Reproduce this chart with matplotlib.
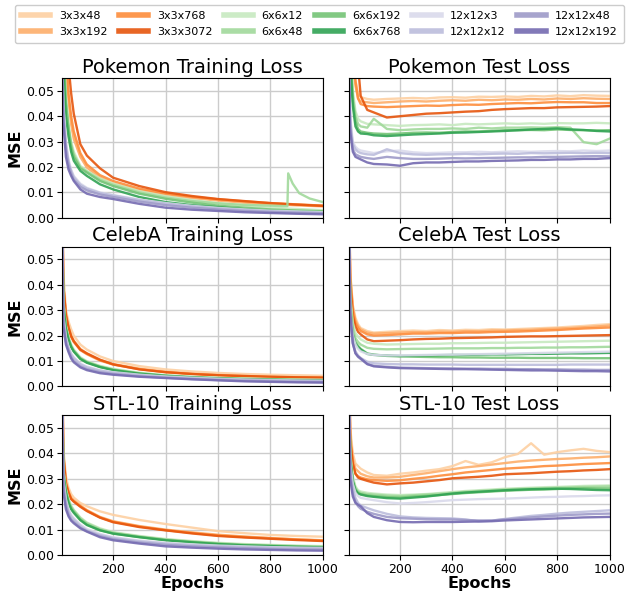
import numpy as np
import matplotlib
matplotlib.use("Agg")
import matplotlib.pyplot as plt

labels = ["3x3x48", "3x3x192", "3x3x768", "3x3x3072",
          "6x6x12", "6x6x48", "6x6x192", "6x6x768",
          "12x12x3", "12x12x12", "12x12x48", "12x12x192"]
colors = ["#fdd0a2", "#fdae6b", "#fd8d3c", "#e6550d",
          "#c7e9c0", "#a1d99b", "#74c476", "#31a354",
          "#dadaeb", "#bcbddc", "#9e9ac8", "#756bb1"]

epochs_train = [1, 10, 20, 30, 40, 50, 75, 100, 150, 200, 300, 400, 500, 600, 700, 800, 900, 1000]
epochs_test = [1, 10, 20, 30, 40, 50, 75, 100, 150, 200, 250, 300, 350, 400, 450, 500,
               550, 600, 650, 700, 750, 800, 850, 900, 950, 1000]

# training losses (one row per label, values read at epochs_train)
pokemon_train = [
    [0.12, 0.090, 0.062, 0.047, 0.038, 0.032, 0.0245, 0.0200, 0.0160, 0.0138, 0.0110, 0.0092, 0.0080, 0.0070, 0.0062, 0.0056, 0.0052, 0.0048],
    [0.12, 0.090, 0.060, 0.046, 0.037, 0.031, 0.0240, 0.0198, 0.0158, 0.0136, 0.0108, 0.0090, 0.0078, 0.0068, 0.0060, 0.0054, 0.0049, 0.0045],
    [0.12, 0.095, 0.065, 0.049, 0.040, 0.034, 0.0255, 0.0210, 0.0168, 0.0145, 0.0115, 0.0096, 0.0083, 0.0073, 0.0065, 0.0058, 0.0053, 0.0048],
    [0.13, 0.110, 0.080, 0.060, 0.049, 0.041, 0.0290, 0.0245, 0.0195, 0.0158, 0.0125, 0.0101, 0.0086, 0.0074, 0.0066, 0.0058, 0.0052, 0.0047],
    [0.10, 0.070, 0.048, 0.037, 0.030, 0.026, 0.0205, 0.0185, 0.0155, 0.0135, 0.0105, 0.0085, 0.0070, 0.0058, 0.0048, 0.0040, 0.0035, 0.0030],
    [0.10, 0.068, 0.046, 0.036, 0.029, 0.025, 0.0200, 0.0182, 0.0150, 0.0130, 0.0100, 0.0080, 0.0066, 0.0057, 0.0051, 0.0048, 0.0046, 0.0062],
    [0.10, 0.066, 0.045, 0.035, 0.028, 0.024, 0.0195, 0.0178, 0.0145, 0.0125, 0.0095, 0.0075, 0.0060, 0.0048, 0.0040, 0.0033, 0.0029, 0.0026],
    [0.10, 0.060, 0.040, 0.032, 0.026, 0.0225, 0.0185, 0.0165, 0.0132, 0.0112, 0.0082, 0.0062, 0.0050, 0.0042, 0.0034, 0.0028, 0.0024, 0.0021],
    [0.09, 0.045, 0.030, 0.023, 0.019, 0.0165, 0.0135, 0.0118, 0.0100, 0.0090, 0.0072, 0.0058, 0.0047, 0.0039, 0.0033, 0.0028, 0.0025, 0.0022],
    [0.09, 0.044, 0.029, 0.022, 0.0185, 0.0160, 0.0130, 0.0115, 0.0098, 0.0088, 0.0070, 0.0056, 0.0045, 0.0037, 0.0031, 0.0026, 0.0023, 0.0020],
    [0.085, 0.040, 0.027, 0.021, 0.0175, 0.0150, 0.0122, 0.0108, 0.0092, 0.0082, 0.0064, 0.0050, 0.0040, 0.0033, 0.0027, 0.0023, 0.0020, 0.0018],
    [0.08, 0.038, 0.024, 0.019, 0.0165, 0.0145, 0.0112, 0.0095, 0.0082, 0.0074, 0.0055, 0.0040, 0.0032, 0.0027, 0.0022, 0.0019, 0.0016, 0.0014],
]
# the 6x6x48 pokemon run has a spike near epoch 866
spike_epochs = [800, 860, 865, 868, 885, 910, 950, 1000]
spike_values = [0.0048, 0.0046, 0.0046, 0.0175, 0.0135, 0.0097, 0.0076, 0.0062]

celeba_train = [
    [0.12, 0.045, 0.030, 0.0255, 0.0225, 0.0200, 0.0165, 0.0145, 0.0118, 0.0100, 0.0080, 0.0067, 0.0059, 0.0053, 0.0049, 0.0046, 0.0044, 0.0042],
    [0.12, 0.040, 0.029, 0.0235, 0.0200, 0.0180, 0.0148, 0.0130, 0.0105, 0.0088, 0.0070, 0.0058, 0.0050, 0.0045, 0.0041, 0.0038, 0.0036, 0.0034],
    [0.12, 0.040, 0.028, 0.0230, 0.0195, 0.0175, 0.0143, 0.0127, 0.0102, 0.0086, 0.0068, 0.0056, 0.0049, 0.0044, 0.0040, 0.0037, 0.0035, 0.0033],
    [0.12, 0.040, 0.028, 0.0232, 0.0198, 0.0178, 0.0145, 0.0130, 0.0105, 0.0087, 0.0067, 0.0056, 0.0049, 0.0044, 0.0041, 0.0038, 0.0036, 0.0035],
    [0.11, 0.034, 0.024, 0.0195, 0.0165, 0.0145, 0.0115, 0.0099, 0.0081, 0.0069, 0.0054, 0.0044, 0.0038, 0.0034, 0.0031, 0.0029, 0.0027, 0.0026],
    [0.11, 0.033, 0.0235, 0.0190, 0.0160, 0.0142, 0.0112, 0.0097, 0.0079, 0.0067, 0.0052, 0.0043, 0.0037, 0.0033, 0.0030, 0.0028, 0.0026, 0.0025],
    [0.11, 0.032, 0.0230, 0.0186, 0.0157, 0.0139, 0.0110, 0.0095, 0.0077, 0.0065, 0.0051, 0.0042, 0.0036, 0.0032, 0.0029, 0.0027, 0.0025, 0.0024],
    [0.11, 0.032, 0.0225, 0.0183, 0.0155, 0.0137, 0.0108, 0.0093, 0.0076, 0.0064, 0.0050, 0.0041, 0.0035, 0.0031, 0.0028, 0.0026, 0.0024, 0.0023],
    [0.10, 0.028, 0.0195, 0.0155, 0.0130, 0.0115, 0.0090, 0.0078, 0.0064, 0.0056, 0.0046, 0.0039, 0.0034, 0.0030, 0.0027, 0.0025, 0.0023, 0.0022],
    [0.10, 0.027, 0.0190, 0.0150, 0.0126, 0.0111, 0.0087, 0.0075, 0.0062, 0.0054, 0.0044, 0.0037, 0.0032, 0.0029, 0.0026, 0.0024, 0.0022, 0.0021],
    [0.10, 0.025, 0.0175, 0.0142, 0.0116, 0.0100, 0.0079, 0.0068, 0.0056, 0.0049, 0.0040, 0.0034, 0.0029, 0.0025, 0.0022, 0.0020, 0.0018, 0.0017],
    [0.10, 0.024, 0.0165, 0.0135, 0.0110, 0.0095, 0.0075, 0.0064, 0.0052, 0.0046, 0.0038, 0.0033, 0.0028, 0.0024, 0.0020, 0.0018, 0.0016, 0.0015],
]

stl_train = [
    [0.12, 0.042, 0.031, 0.0265, 0.0240, 0.0226, 0.0205, 0.0192, 0.0172, 0.0158, 0.0138, 0.0122, 0.0108, 0.0094, 0.0086, 0.0079, 0.0075, 0.0072],
    [0.12, 0.040, 0.029, 0.0250, 0.0225, 0.0215, 0.0195, 0.0177, 0.0150, 0.0133, 0.0114, 0.0100, 0.0089, 0.0080, 0.0073, 0.0067, 0.0062, 0.0058],
    [0.12, 0.040, 0.0285, 0.0248, 0.0222, 0.0212, 0.0192, 0.0175, 0.0148, 0.0131, 0.0112, 0.0098, 0.0087, 0.0077, 0.0071, 0.0066, 0.0061, 0.0057],
    [0.12, 0.039, 0.028, 0.0245, 0.0220, 0.0210, 0.0190, 0.0173, 0.0147, 0.0129, 0.0110, 0.0097, 0.0085, 0.0075, 0.0069, 0.0064, 0.0059, 0.0055],
    [0.11, 0.034, 0.026, 0.0220, 0.0195, 0.0178, 0.0148, 0.0128, 0.0105, 0.0090, 0.0075, 0.0063, 0.0055, 0.0048, 0.0043, 0.0040, 0.0037, 0.0035],
    [0.11, 0.033, 0.0255, 0.0215, 0.0190, 0.0175, 0.0145, 0.0125, 0.0102, 0.0088, 0.0073, 0.0061, 0.0053, 0.0046, 0.0041, 0.0038, 0.0035, 0.0033],
    [0.11, 0.032, 0.0250, 0.0210, 0.0185, 0.0170, 0.0140, 0.0120, 0.0098, 0.0085, 0.0071, 0.0059, 0.0051, 0.0044, 0.0039, 0.0036, 0.0033, 0.0031],
    [0.11, 0.032, 0.0245, 0.0205, 0.0180, 0.0166, 0.0137, 0.0118, 0.0097, 0.0084, 0.0070, 0.0058, 0.0050, 0.0043, 0.0038, 0.0035, 0.0032, 0.0030],
    [0.10, 0.030, 0.0220, 0.0180, 0.0158, 0.0145, 0.0120, 0.0102, 0.0083, 0.0070, 0.0057, 0.0048, 0.0042, 0.0037, 0.0034, 0.0031, 0.0029, 0.0028],
    [0.10, 0.029, 0.0210, 0.0172, 0.0152, 0.0140, 0.0115, 0.0097, 0.0079, 0.0067, 0.0054, 0.0045, 0.0039, 0.0035, 0.0031, 0.0029, 0.0027, 0.0026],
    [0.10, 0.027, 0.0195, 0.0160, 0.0140, 0.0130, 0.0108, 0.0094, 0.0074, 0.0062, 0.0049, 0.0040, 0.0034, 0.0030, 0.0027, 0.0024, 0.0022, 0.0021],
    [0.10, 0.025, 0.0180, 0.0152, 0.0135, 0.0125, 0.0105, 0.0092, 0.0070, 0.0058, 0.0045, 0.0034, 0.0029, 0.0025, 0.0022, 0.0020, 0.0018, 0.0017],
]

# test losses (one row per label, values read at epochs_test)
pokemon_test = [
    [0.12, 0.085, 0.062, 0.054, 0.049, 0.0475, 0.0468, 0.0465, 0.0468, 0.0470, 0.0472, 0.0470, 0.0474, 0.0475, 0.0473, 0.0477, 0.0476, 0.0478, 0.0476, 0.0480, 0.0478, 0.0482, 0.0479, 0.0483, 0.0481, 0.0480],
    [0.12, 0.083, 0.060, 0.052, 0.047, 0.0458, 0.0455, 0.0452, 0.0455, 0.0458, 0.0460, 0.0458, 0.0461, 0.0463, 0.0461, 0.0465, 0.0463, 0.0466, 0.0465, 0.0468, 0.0466, 0.0470, 0.0468, 0.0471, 0.0469, 0.0468],
    [0.12, 0.090, 0.065, 0.054, 0.047, 0.0448, 0.0440, 0.0438, 0.0436, 0.0438, 0.0440, 0.0442, 0.0441, 0.0444, 0.0446, 0.0445, 0.0448, 0.0450, 0.0452, 0.0451, 0.0454, 0.0456, 0.0455, 0.0455, 0.0452, 0.0452],
    [0.13, 0.110, 0.090, 0.075, 0.060, 0.0480, 0.0425, 0.0415, 0.0395, 0.0400, 0.0405, 0.0410, 0.0412, 0.0415, 0.0418, 0.0420, 0.0425, 0.0428, 0.0430, 0.0432, 0.0432, 0.0435, 0.0436, 0.0437, 0.0438, 0.0440],
    [0.11, 0.070, 0.050, 0.042, 0.039, 0.0380, 0.0370, 0.0368, 0.0365, 0.0362, 0.0365, 0.0366, 0.0368, 0.0365, 0.0370, 0.0368, 0.0370, 0.0372, 0.0370, 0.0372, 0.0370, 0.0373, 0.0372, 0.0372, 0.0374, 0.0372],
    [0.11, 0.068, 0.048, 0.040, 0.037, 0.0360, 0.0355, 0.0390, 0.0350, 0.0345, 0.0348, 0.0350, 0.0350, 0.0352, 0.0350, 0.0355, 0.0352, 0.0355, 0.0355, 0.0356, 0.0355, 0.0357, 0.0355, 0.0298, 0.0290, 0.0312],
    [0.11, 0.065, 0.046, 0.038, 0.035, 0.0340, 0.0335, 0.0332, 0.0330, 0.0332, 0.0335, 0.0336, 0.0335, 0.0338, 0.0340, 0.0340, 0.0342, 0.0345, 0.0345, 0.0346, 0.0345, 0.0348, 0.0346, 0.0345, 0.0344, 0.0345],
    [0.11, 0.062, 0.044, 0.036, 0.034, 0.0332, 0.0330, 0.0325, 0.0322, 0.0325, 0.0328, 0.0330, 0.0332, 0.0335, 0.0336, 0.0338, 0.0340, 0.0342, 0.0345, 0.0348, 0.0350, 0.0352, 0.0348, 0.0346, 0.0342, 0.0340],
    [0.09, 0.040, 0.030, 0.028, 0.027, 0.0265, 0.0260, 0.0255, 0.0262, 0.0265, 0.0258, 0.0255, 0.0256, 0.0258, 0.0258, 0.0260, 0.0258, 0.0260, 0.0262, 0.0260, 0.0262, 0.0263, 0.0262, 0.0265, 0.0263, 0.0265],
    [0.09, 0.038, 0.029, 0.027, 0.026, 0.0255, 0.0250, 0.0248, 0.0270, 0.0255, 0.0250, 0.0248, 0.0250, 0.0250, 0.0252, 0.0250, 0.0252, 0.0253, 0.0252, 0.0255, 0.0254, 0.0255, 0.0256, 0.0255, 0.0256, 0.0255],
    [0.085, 0.036, 0.027, 0.025, 0.0245, 0.0240, 0.0235, 0.0232, 0.0240, 0.0235, 0.0232, 0.0232, 0.0233, 0.0235, 0.0234, 0.0235, 0.0236, 0.0237, 0.0238, 0.0238, 0.0240, 0.0240, 0.0241, 0.0242, 0.0243, 0.0242],
    [0.08, 0.034, 0.026, 0.024, 0.0235, 0.0230, 0.0218, 0.0212, 0.0210, 0.0205, 0.0215, 0.0218, 0.0218, 0.0220, 0.0222, 0.0222, 0.0224, 0.0225, 0.0226, 0.0228, 0.0228, 0.0230, 0.0230, 0.0232, 0.0232, 0.0235],
]

celeba_test = [
    [0.11, 0.045, 0.032, 0.027, 0.0245, 0.0230, 0.0218, 0.0212, 0.0215, 0.0218, 0.0220, 0.0218, 0.0222, 0.0220, 0.0223, 0.0222, 0.0225, 0.0224, 0.0226, 0.0228, 0.0230, 0.0232, 0.0235, 0.0238, 0.0242, 0.0245],
    [0.11, 0.044, 0.031, 0.026, 0.0238, 0.0225, 0.0212, 0.0208, 0.0210, 0.0212, 0.0214, 0.0213, 0.0216, 0.0215, 0.0218, 0.0217, 0.0220, 0.0220, 0.0222, 0.0223, 0.0226, 0.0228, 0.0230, 0.0233, 0.0236, 0.0240],
    [0.11, 0.043, 0.030, 0.025, 0.0230, 0.0218, 0.0205, 0.0200, 0.0202, 0.0205, 0.0208, 0.0208, 0.0210, 0.0210, 0.0212, 0.0212, 0.0214, 0.0215, 0.0216, 0.0218, 0.0220, 0.0222, 0.0225, 0.0228, 0.0230, 0.0232],
    [0.11, 0.040, 0.028, 0.0235, 0.0215, 0.0205, 0.0185, 0.0178, 0.0180, 0.0182, 0.0185, 0.0187, 0.0188, 0.0190, 0.0191, 0.0192, 0.0193, 0.0195, 0.0196, 0.0197, 0.0197, 0.0198, 0.0199, 0.0200, 0.0201, 0.0202],
    [0.10, 0.036, 0.025, 0.021, 0.0195, 0.0185, 0.0172, 0.0168, 0.0165, 0.0166, 0.0167, 0.0168, 0.0168, 0.0170, 0.0170, 0.0171, 0.0172, 0.0172, 0.0173, 0.0174, 0.0175, 0.0176, 0.0177, 0.0178, 0.0179, 0.0180],
    [0.10, 0.034, 0.023, 0.019, 0.0175, 0.0165, 0.0152, 0.0148, 0.0146, 0.0147, 0.0148, 0.0148, 0.0149, 0.0150, 0.0150, 0.0150, 0.0151, 0.0151, 0.0152, 0.0152, 0.0153, 0.0153, 0.0154, 0.0154, 0.0155, 0.0156],
    [0.10, 0.032, 0.021, 0.0175, 0.0160, 0.0148, 0.0130, 0.0125, 0.0120, 0.0118, 0.0117, 0.0116, 0.0115, 0.0115, 0.0114, 0.0114, 0.0113, 0.0113, 0.0113, 0.0112, 0.0112, 0.0112, 0.0112, 0.0111, 0.0111, 0.0111],
    [0.10, 0.030, 0.020, 0.0168, 0.0155, 0.0145, 0.0128, 0.0124, 0.0122, 0.0120, 0.0121, 0.0122, 0.0123, 0.0124, 0.0124, 0.0125, 0.0126, 0.0126, 0.0127, 0.0128, 0.0128, 0.0129, 0.0130, 0.0130, 0.0131, 0.0132],
    [0.10, 0.030, 0.020, 0.0165, 0.0148, 0.0138, 0.0128, 0.0124, 0.0122, 0.0122, 0.0123, 0.0124, 0.0125, 0.0125, 0.0126, 0.0127, 0.0128, 0.0129, 0.0130, 0.0131, 0.0132, 0.0133, 0.0134, 0.0135, 0.0136, 0.0137],
    [0.10, 0.027, 0.0175, 0.0138, 0.0122, 0.0112, 0.0097, 0.0091, 0.0088, 0.0087, 0.0087, 0.0086, 0.0086, 0.0086, 0.0085, 0.0085, 0.0085, 0.0085, 0.0085, 0.0085, 0.0085, 0.0085, 0.0086, 0.0086, 0.0086, 0.0086],
    [0.10, 0.026, 0.0168, 0.0132, 0.0116, 0.0108, 0.0088, 0.0081, 0.0077, 0.0074, 0.0073, 0.0072, 0.0071, 0.0071, 0.0070, 0.0070, 0.0069, 0.0069, 0.0068, 0.0068, 0.0067, 0.0067, 0.0066, 0.0066, 0.0065, 0.0065],
    [0.10, 0.030, 0.0170, 0.0130, 0.0118, 0.0110, 0.0088, 0.0079, 0.0075, 0.0072, 0.0071, 0.0070, 0.0069, 0.0068, 0.0068, 0.0067, 0.0066, 0.0065, 0.0064, 0.0063, 0.0063, 0.0062, 0.0061, 0.0060, 0.0060, 0.0059],
]

stl_test = [
    [0.11, 0.050, 0.040, 0.036, 0.035, 0.0340, 0.0325, 0.0315, 0.0312, 0.0320, 0.0325, 0.0332, 0.0338, 0.0350, 0.0370, 0.0355, 0.0365, 0.0385, 0.0398, 0.0440, 0.0395, 0.0405, 0.0412, 0.0418, 0.0410, 0.0405],
    [0.11, 0.048, 0.038, 0.034, 0.033, 0.0320, 0.0310, 0.0305, 0.0305, 0.0308, 0.0315, 0.0322, 0.0330, 0.0338, 0.0345, 0.0350, 0.0356, 0.0362, 0.0368, 0.0372, 0.0375, 0.0378, 0.0380, 0.0383, 0.0385, 0.0388],
    [0.11, 0.046, 0.036, 0.032, 0.031, 0.0305, 0.0298, 0.0295, 0.0292, 0.0294, 0.0300, 0.0305, 0.0312, 0.0318, 0.0325, 0.0330, 0.0335, 0.0340, 0.0343, 0.0346, 0.0350, 0.0352, 0.0355, 0.0358, 0.0360, 0.0362],
    [0.11, 0.045, 0.036, 0.032, 0.0305, 0.0300, 0.0292, 0.0285, 0.0278, 0.0282, 0.0285, 0.0290, 0.0295, 0.0302, 0.0305, 0.0308, 0.0312, 0.0318, 0.0320, 0.0322, 0.0325, 0.0328, 0.0330, 0.0333, 0.0335, 0.0338],
    [0.10, 0.040, 0.031, 0.027, 0.0255, 0.0250, 0.0245, 0.0242, 0.0238, 0.0236, 0.0238, 0.0240, 0.0244, 0.0248, 0.0252, 0.0255, 0.0258, 0.0261, 0.0263, 0.0265, 0.0267, 0.0268, 0.0270, 0.0272, 0.0273, 0.0274],
    [0.10, 0.039, 0.030, 0.0265, 0.0250, 0.0245, 0.0240, 0.0238, 0.0234, 0.0232, 0.0235, 0.0238, 0.0241, 0.0245, 0.0249, 0.0252, 0.0255, 0.0258, 0.0260, 0.0262, 0.0263, 0.0265, 0.0266, 0.0268, 0.0269, 0.0270],
    [0.10, 0.038, 0.029, 0.0258, 0.0245, 0.0240, 0.0235, 0.0232, 0.0228, 0.0226, 0.0230, 0.0233, 0.0236, 0.0240, 0.0244, 0.0247, 0.0250, 0.0253, 0.0255, 0.0257, 0.0258, 0.0260, 0.0262, 0.0263, 0.0262, 0.0262],
    [0.10, 0.038, 0.029, 0.0255, 0.0242, 0.0238, 0.0232, 0.0229, 0.0224, 0.0222, 0.0226, 0.0230, 0.0236, 0.0242, 0.0246, 0.0249, 0.0252, 0.0255, 0.0257, 0.0259, 0.0260, 0.0261, 0.0260, 0.0258, 0.0256, 0.0255],
    [0.10, 0.036, 0.028, 0.0245, 0.0232, 0.0225, 0.0220, 0.0216, 0.0208, 0.0203, 0.0205, 0.0208, 0.0212, 0.0216, 0.0218, 0.0220, 0.0221, 0.0222, 0.0224, 0.0226, 0.0228, 0.0229, 0.0231, 0.0232, 0.0234, 0.0235],
    [0.10, 0.034, 0.026, 0.0225, 0.0205, 0.0195, 0.0185, 0.0176, 0.0162, 0.0152, 0.0148, 0.0146, 0.0145, 0.0144, 0.0140, 0.0132, 0.0135, 0.0142, 0.0148, 0.0154, 0.0158, 0.0163, 0.0167, 0.0170, 0.0173, 0.0176],
    [0.10, 0.032, 0.024, 0.0210, 0.0192, 0.0182, 0.0170, 0.0162, 0.0150, 0.0145, 0.0143, 0.0141, 0.0140, 0.0140, 0.0138, 0.0136, 0.0136, 0.0140, 0.0144, 0.0148, 0.0152, 0.0155, 0.0158, 0.0160, 0.0162, 0.0163],
    [0.10, 0.030, 0.023, 0.0205, 0.0198, 0.0192, 0.0165, 0.0150, 0.0137, 0.0130, 0.0129, 0.0130, 0.0130, 0.0130, 0.0131, 0.0132, 0.0133, 0.0136, 0.0138, 0.0140, 0.0142, 0.0144, 0.0146, 0.0148, 0.0149, 0.0150],
]

panels = [
    ("Pokemon Training Loss", epochs_train, pokemon_train),
    ("Pokemon Test Loss", epochs_test, pokemon_test),
    ("CelebA Training Loss", epochs_train, celeba_train),
    ("CelebA Test Loss", epochs_test, celeba_test),
    ("STL-10 Training Loss", epochs_train, stl_train),
    ("STL-10 Test Loss", epochs_test, stl_test),
]

fig, axes = plt.subplots(3, 2, figsize=(6.26, 5.92), dpi=100, sharex=True, sharey=True)
fig.subplots_adjust(left=0.099, right=0.974, bottom=0.0625, top=0.868, wspace=0.1, hspace=0.207)

for i, (title, ep, rows) in enumerate(panels):
    ax = axes[i // 2, i % 2]
    for j, (lab, col) in enumerate(zip(labels, colors)):
        x, y = ep, rows[j]
        if i == 0 and lab == "6x6x48":
            x = ep[:-3] + spike_epochs[1:]
            y = rows[j][:-3] + spike_values[1:]
        ax.plot(x, y, color=col, lw=1.7, alpha=0.9, label=lab)
    ax.set_title(title, fontsize=14, pad=4)
    ax.grid(True, color="#cccccc", lw=1.0)
    ax.set_axisbelow(True)
    ax.tick_params(labelsize=9, pad=2, length=3.5)

axes[0, 0].set_xlim(5, 1000)
axes[0, 0].set_ylim(0, 0.055)
axes[0, 0].set_xticks([200, 400, 600, 800, 1000])
axes[0, 0].set_yticks([0.0, 0.01, 0.02, 0.03, 0.04, 0.05])
axes[0, 0].yaxis.set_major_formatter(matplotlib.ticker.FormatStrFormatter("%.2f"))

for r in range(3):
    axes[r, 0].set_ylabel("MSE", fontsize=11.5, fontweight="bold", labelpad=3)
for c in range(2):
    axes[2, c].set_xlabel("Epochs", fontsize=11.5, fontweight="bold", labelpad=0)

handles, labs = axes[0, 0].get_legend_handles_labels()
leg = fig.legend(handles, labs, loc="upper left", ncol=6, mode="expand",
                 bbox_to_anchor=(15 / 626, 1 - 5 / 592, 609 / 626, 0.0),
                 fontsize=8, handlelength=2.6, handletextpad=0.8,
                 borderpad=0.55, labelspacing=0.55,
                 borderaxespad=0.0, framealpha=1.0, edgecolor="#cccccc")
for h in leg.get_lines():
    h.set_linewidth(4)

fig.savefig("out.png", dpi=100)
